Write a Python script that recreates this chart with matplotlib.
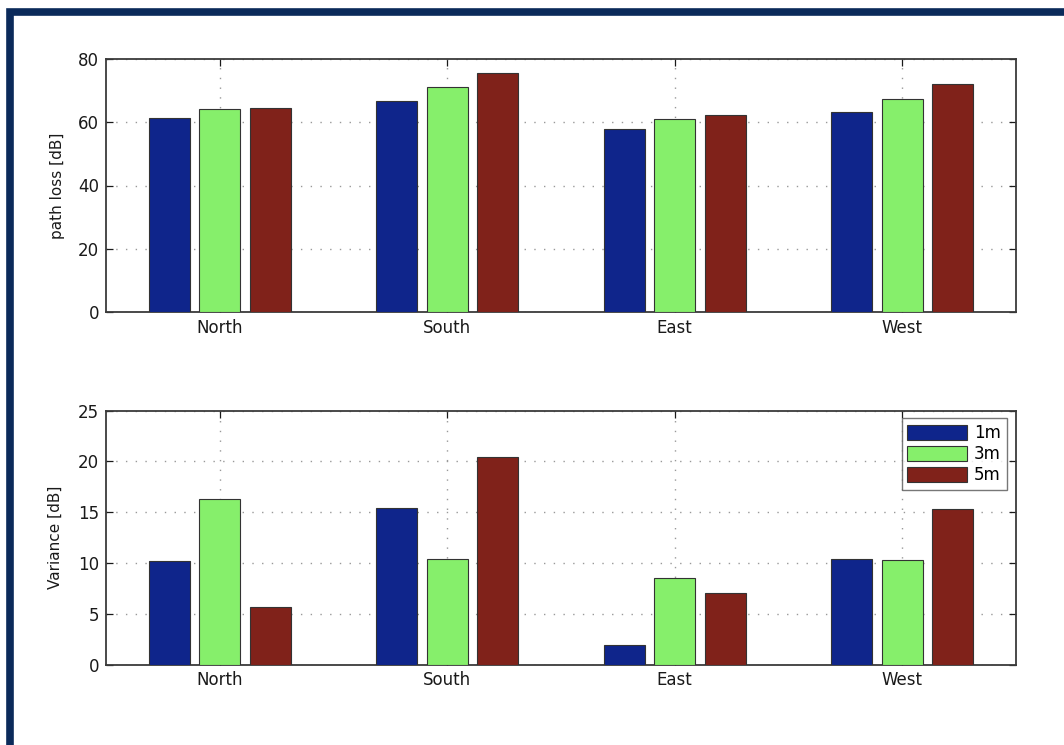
import matplotlib
matplotlib.use("Agg")
import matplotlib.pyplot as plt
from matplotlib.patches import Rectangle
import numpy as np

plt.rcParams['font.family'] = ['DejaVu Sans']

directions = ["North", "South", "East", "West"]
heights = ["1m", "3m", "5m"]
path_loss = {
    "1m": [61.3, 66.8, 57.9, 63.1],
    "3m": [64.3, 71.0, 61.0, 67.4],
    "5m": [64.6, 75.5, 62.4, 72.0],
}
variance = {
    "1m": [10.2, 15.4, 1.9, 10.4],
    "3m": [16.3, 10.4, 8.5, 10.3],
    "5m": [5.7, 20.4, 7.0, 15.3],
}
path_loss_ticks = [0, 20, 40, 60, 80]
variance_ticks = [0, 5, 10, 15, 20, 25]

colors = {"1m": "#0f258b", "3m": "#86ef6b", "5m": "#80221a"}

fig = plt.figure(figsize=(10.64, 7.45), dpi=100)
W, H = 1064, 745

# frame around the figure
fig.patches.append(Rectangle((9.5 / W, -0.1), 1.2, 1.1 - 11.5 / H,
                             transform=fig.transFigure, fill=False,
                             edgecolor="#0b2a5a", linewidth=5.5, zorder=0))

ax1 = fig.add_axes([106 / W, 1 - 312 / H, 910 / W, 253 / H])
ax2 = fig.add_axes([106 / W, 1 - 664.5 / H, 910 / W, 253.8 / H])

x = np.arange(1, len(directions) + 1)
step = 0.222
width = 0.18


def draw(ax, data, ticks, ylabel, label_x):
    for i, h in enumerate(heights):
        ax.bar(x + (i - 1) * step, data[h], width=width, color=colors[h],
               edgecolor="#333333", linewidth=0.8, label=h, zorder=3)
    ax.set_xlim(0.5, 4.5)
    ax.set_ylim(ticks[0], ticks[-1])
    ax.set_yticks(ticks)
    ax.set_xticks(x)
    ax.set_xticklabels(directions)
    ax.grid(True, linestyle=(0, (1, 6)), color="#999999", linewidth=1.0, zorder=0)
    ax.tick_params(direction="in", top=True, right=True, length=5, width=0.9,
                   labelsize=12, colors="#1a1a1a", pad=5)
    for s in ax.spines.values():
        s.set_color("#3a3a3a")
        s.set_linewidth(1.3)
    ax.set_ylabel(ylabel, fontsize=11, color="#1a1a1a")
    ax.yaxis.set_label_coords(label_x, 0.5)


draw(ax1, path_loss, path_loss_ticks, "path loss [dB]", -0.045)
draw(ax2, variance, variance_ticks, "Variance [dB]", -0.048)

leg = ax2.legend(loc="upper right", bbox_to_anchor=(0.9898, 0.971),
                 fontsize=12, frameon=True, fancybox=False,
                 handlelength=3.6, handleheight=1.0, handletextpad=0.4,
                 labelspacing=0.18, borderpad=0.35, borderaxespad=0.0)
leg.get_frame().set_edgecolor("#555555")
leg.get_frame().set_linewidth(1.0)
leg.set_zorder(5)

fig.savefig("out.png", dpi=100)
